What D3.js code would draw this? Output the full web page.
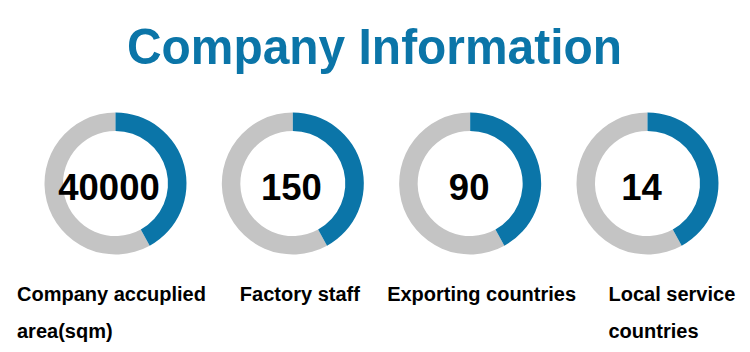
<!DOCTYPE html>
<html>
<head>
<meta charset="utf-8">
<script src="https://cdn.jsdelivr.net/npm/d3@7/dist/d3.min.js"></script>
<style>
  html, body { margin: 0; padding: 0; background: #ffffff; }
  svg { display: block; }
</style>
</head>
<body>
<svg id="chart" width="750" height="352"></svg>
<script>
// ---- data ----
const title = "Company Information";
const categories = ["area", "staff", "exporting", "local"];
const values = ["40000", "150", "90", "14"];
const shares = [0.42, 0.42, 0.42, 0.42];
const labelLines = [
  ["Company accuplied", "area(sqm)"],
  ["Factory staff"],
  ["Exporting countries"],
  ["Local service", "countries"]
];

// ---- layout ----
const W = 750, H = 352;
const blue = "#0b75a8";
const grey = "#c4c4c4";
const outerR = 71, innerR = 52.5;
const cy = 183.5;
const labelDx = [-98.5, -53, -83, -39];
const numberDx = [-6.5, -1.5, -1, -6];

const svg = d3.select("#chart");

svg.append("text")
  .attr("x", 374.5)
  .attr("y", 63.5)
  .attr("text-anchor", "middle")
  .attr("font-family", "'Liberation Sans', Arial, sans-serif")
  .attr("font-weight", "bold")
  .attr("font-size", 50.5)
  .attr("textLength", 495)
  .attr("lengthAdjust", "spacingAndGlyphs")
  .attr("fill", blue)
  .text(title);

const x = d3.scalePoint().domain(categories).range([115.5, 647.5]);
const angle = d3.scaleLinear().domain([0, 1]).range([0, 2 * Math.PI]);
const arc = d3.arc().innerRadius(innerR).outerRadius(outerR);

const g = svg.selectAll("g.donut")
  .data(categories)
  .join("g")
  .attr("class", "donut")
  .attr("transform", d => `translate(${x(d)},${cy})`);

g.append("path")
  .attr("fill", grey)
  .attr("d", (d, i) => arc({ startAngle: angle(shares[i]), endAngle: angle(1) }));

g.append("path")
  .attr("fill", blue)
  .attr("d", (d, i) => arc({ startAngle: angle(0), endAngle: angle(shares[i]) }));

g.append("text")
  .attr("x", (d, i) => numberDx[i])
  .attr("y", 16.5)
  .attr("text-anchor", "middle")
  .attr("font-family", "'Liberation Sans', Arial, sans-serif")
  .attr("font-weight", "bold")
  .attr("font-size", 36.5)
  .attr("fill", "#000")
  .text((d, i) => values[i]);

const lab = svg.selectAll("text.label")
  .data(categories)
  .join("text")
  .attr("class", "label")
  .attr("font-family", "'Liberation Sans', Arial, sans-serif")
  .attr("font-weight", "bold")
  .attr("font-size", 20)
  .attr("fill", "#000");

lab.selectAll("tspan")
  .data((d, i) => labelLines[i].map(t => ({ t, i })))
  .join("tspan")
  .attr("x", d => x(categories[d.i]) + labelDx[d.i])
  .attr("y", (d, j) => 300.5 + j * 37)
  .text(d => d.t);
</script>
</body>
</html>
